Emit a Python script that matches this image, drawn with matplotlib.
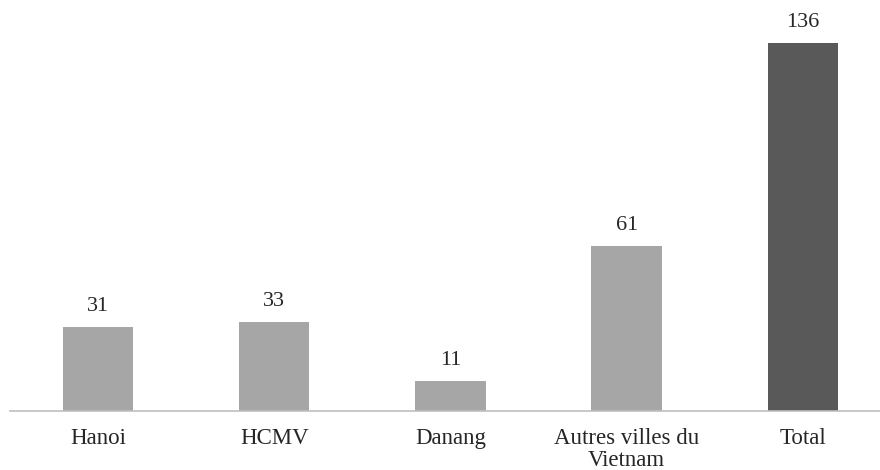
import matplotlib.pyplot as plt

# data
categories = ['Hanoi', 'HCMV', 'Danang', 'Autres villes du\nVietnam', 'Total']
values = [31, 33, 11, 61, 136]
colors = ['#a6a6a6', '#a6a6a6', '#a6a6a6', '#a6a6a6', '#595959']

plt.rcParams['font.family'] = ['Liberation Serif', 'DejaVu Serif']

fig = plt.figure(figsize=(8.8, 4.7), dpi=100)
ax = fig.add_axes([10 / 880, 59 / 470, 1 - 10 / 880, 1 - 59 / 470])

x = range(len(categories))
bars = ax.bar(x, values, width=0.4, color=colors)

for b, v in zip(bars, values):
    ax.annotate(str(v), (b.get_x() + b.get_width() / 2, v),
                xytext=(0, 8), textcoords='offset points',
                ha='center', va='bottom', fontsize=16, color='#262626')

ax.set_xlim(-0.499, 4.437)
ax.set_ylim(0, 152)
ax.set_xticks(list(x))
ax.set_xticklabels(categories, fontsize=16.5, color='#262626', linespacing=1.1)
ax.tick_params(axis='x', length=0, pad=12)
ax.set_yticks([])

for s in ['top', 'right', 'left']:
    ax.spines[s].set_visible(False)
ax.spines['bottom'].set_color('#bfbfbf')
ax.spines['bottom'].set_linewidth(1.2)

fig.savefig('out.png', dpi=100)
